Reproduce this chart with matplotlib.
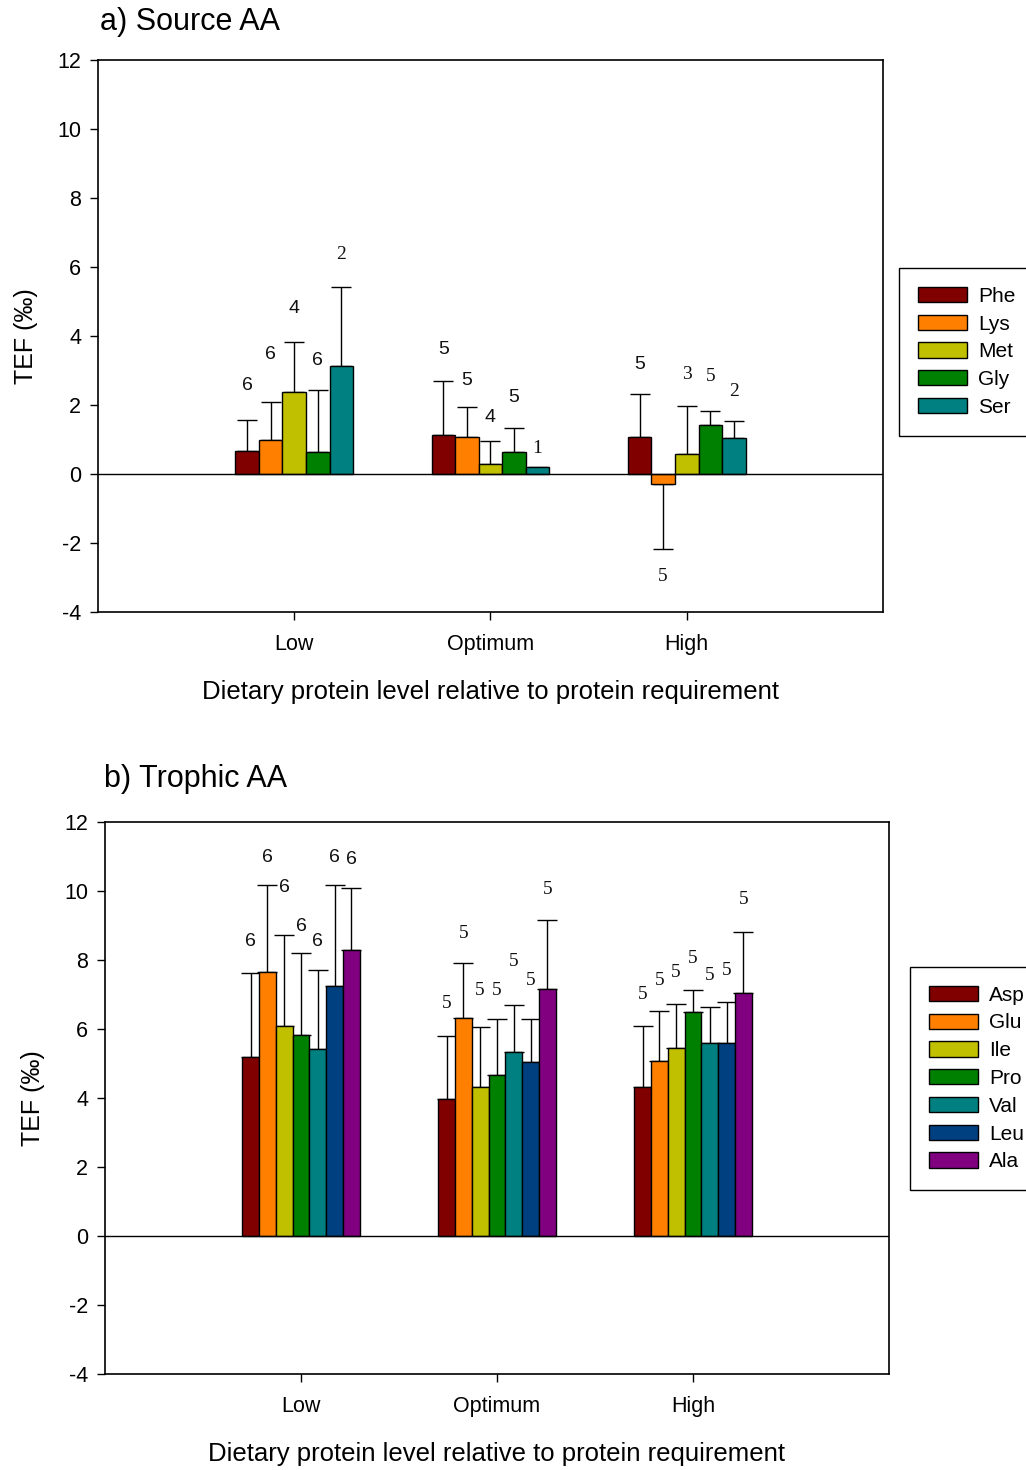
import numpy as np
import matplotlib
matplotlib.use("Agg")
import matplotlib.pyplot as plt

plt.rcParams['font.family'] = ['Liberation Sans', 'DejaVu Sans']
plt.rcParams['axes.unicode_minus'] = False

levels = ['Low', 'Optimum', 'High']

# a) source amino acids: mean TEF, SD and sample size per protein level
source_names = ['Phe', 'Lys', 'Met', 'Gly', 'Ser']
source_mean = [
    [0.67, 1.14, 1.08],
    [0.99, 1.07, -0.30],
    [2.37, 0.29, 0.57],
    [0.63, 0.63, 1.43],
    [3.13, 0.20, 1.05],
]
source_sd = [
    [0.90, 1.56, 1.24],
    [1.10, 0.87, 1.87],
    [1.46, 0.66, 1.40],
    [1.80, 0.70, 0.40],
    [2.29, np.nan, 0.49],
]
source_n = [
    [6, 5, 5],
    [6, 5, 5],
    [4, 4, 3],
    [6, 5, 5],
    [2, 1, 2],
]

# b) trophic amino acids
trophic_names = ['Asp', 'Glu', 'Ile', 'Pro', 'Val', 'Leu', 'Ala']
trophic_mean = [
    [5.19, 3.98, 4.31],
    [7.66, 6.32, 5.06],
    [6.09, 4.33, 5.46],
    [5.83, 4.67, 6.48],
    [5.41, 5.32, 5.60],
    [7.26, 5.03, 5.60],
    [8.29, 7.15, 7.04],
]
trophic_sd = [
    [2.44, 1.83, 1.79],
    [2.52, 1.58, 1.46],
    [2.64, 1.74, 1.27],
    [2.36, 1.62, 0.64],
    [2.29, 1.38, 1.05],
    [2.92, 1.26, 1.18],
    [1.81, 2.01, 1.77],
]
trophic_n = [
    [6, 5, 5],
    [6, 5, 5],
    [6, 5, 5],
    [6, 5, 5],
    [6, 5, 5],
    [6, 5, 5],
    [6, 5, 5],
]

colors = ['#800000', '#FF8000', '#C0C000', '#008000', '#008080', '#004080', '#800080']

# gap between the end of each error bar and its n label (per series, per level)
source_gap = [
    [1.00, 0.92, 0.84],
    [1.36, 0.78, 0.79],
    [0.98, 0.70, 0.90],
    [0.87, 0.90, 1.00],
    [0.93, 0.55, 0.84],
]
trophic_gap = [
    [0.92, 0.94, 0.91],
    [0.80, 0.88, 0.90],
    [1.36, 1.06, 0.92],
    [0.77, 0.84, 0.91],
    [0.85, 1.27, 0.89],
    [0.78, 1.13, 0.93],
    [0.80, 0.87, 0.93],
]
source_serif = [
    [False, False, False],
    [False, False, True],
    [False, False, True],
    [False, False, True],
    [True, True, True],
]
trophic_serif = [[False, True, True]] * 7


def draw_panel(ax, names, mean, sd, n, gap, serif):
    nser = len(names)
    width = 0.6 / nser
    x = np.arange(1, len(levels) + 1)
    for i in range(nser):
        m = np.array(mean[i], dtype=float)
        s = np.array(sd[i], dtype=float)
        xs = x - 0.3 + width * (i + 0.5)
        ax.bar(xs, m, width=width, color=colors[i], edgecolor='black',
               linewidth=1.0, label=names[i], zorder=3)
        lower = np.where(m < 0, s, 0)
        upper = np.where(m < 0, 0, s)
        ax.errorbar(xs, m, yerr=[lower, upper], fmt='none', ecolor='black',
                    elinewidth=1.0, capsize=7, capthick=1.0, zorder=2)
        for j in range(len(levels)):
            if np.isnan(s[j]):
                ty = m[j] + gap[i][j]
            elif m[j] < 0:
                ty = m[j] - s[j] - gap[i][j]
            else:
                ty = m[j] + s[j] + gap[i][j]
            fam = 'Liberation Serif' if serif[i][j] else 'Liberation Sans'
            ax.text(xs[j], ty, str(n[i][j]), ha='center', va='center',
                    fontsize=14, family=fam, color='#111111')
    ax.axhline(0, color='black', linewidth=1.0, zorder=4)
    ax.set_xlim(0, 4)
    ax.set_ylim(-4, 12)
    ax.set_yticks(np.arange(-4, 13, 2))
    ax.set_xticks(x)
    ax.set_xticklabels(levels)
    ax.tick_params(direction='out', length=6, width=1, labelsize=15.5,
                   top=False, right=False, pad=6)
    ax.tick_params(axis='x', pad=10)
    for sp in ax.spines.values():
        sp.set_linewidth(1.2)
    ax.set_ylabel('TEF (‰)', fontsize=18, labelpad=14)
    ax.set_xlabel('Dietary protein level relative to protein requirement',
                  fontsize=18.5, labelpad=18)


fig = plt.figure(figsize=(10.26, 14.70), dpi=100)
ax1 = fig.add_axes([0.0955, 0.5837, 0.7651, 0.3755])
ax2 = fig.add_axes([0.1023, 0.0653, 0.7641, 0.3755])

draw_panel(ax1, source_names, source_mean, source_sd, source_n, source_gap, source_serif)
draw_panel(ax2, trophic_names, trophic_mean, trophic_sd, trophic_n, trophic_gap, trophic_serif)

fig.text(100 / 1026, 1 - 22 / 1470, 'a) Source AA', fontsize=22, va='center', ha='left')
fig.text(104 / 1026, 1 - 779 / 1470, 'b) Trophic AA', fontsize=22, va='center', ha='left')

for ax, anchor in ((ax1, (899 / 1026, 1 - 268 / 1470)), (ax2, (910 / 1026, 1 - 967 / 1470))):
    leg = ax.legend(loc='upper left', bbox_to_anchor=anchor,
                    bbox_transform=fig.transFigure, borderaxespad=0,
                    fontsize=15, frameon=True, fancybox=False,
                    edgecolor='black', framealpha=1, handlelength=2.35,
                    handleheight=0.75, handletextpad=0.55, labelspacing=0.42,
                    borderpad=0.9)
    leg.get_frame().set_linewidth(1.0)

fig.savefig('out.png', dpi=100)
